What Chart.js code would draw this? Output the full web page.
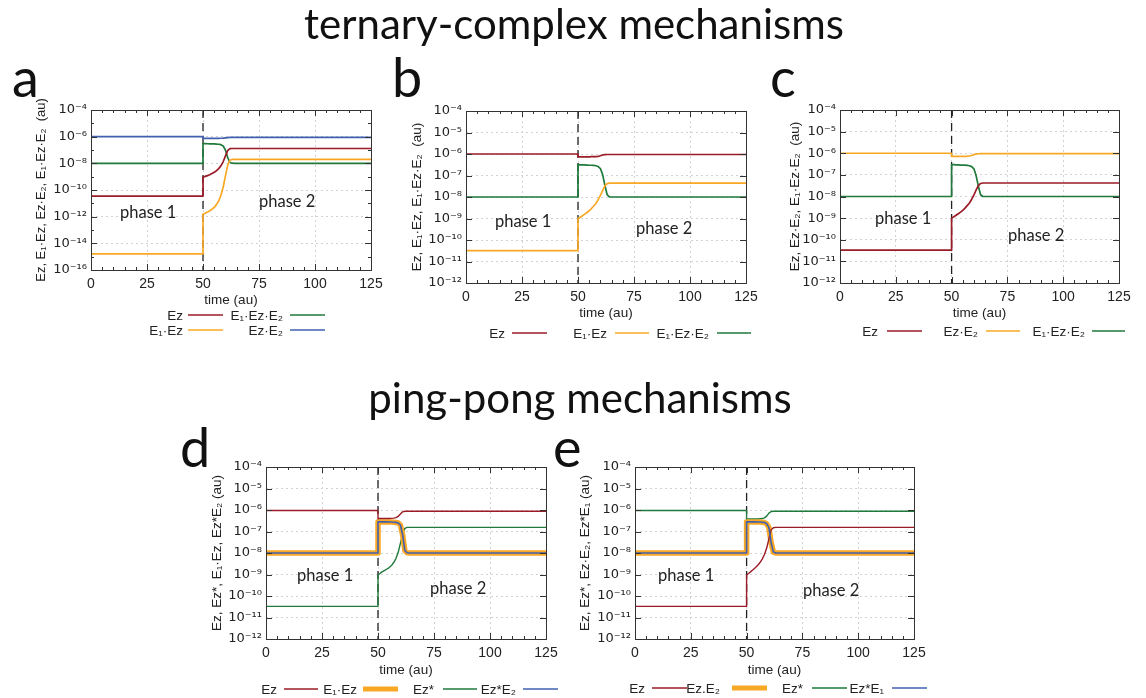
<!DOCTYPE html>
<html><head><meta charset="utf-8">
<script src="https://cdn.jsdelivr.net/npm/chart.js@4.4.1/dist/chart.umd.min.js"></script>
<style>
html,body{margin:0;padding:0;background:#fff;}
#wrap{position:relative;width:1146px;height:698px;overflow:hidden;background:#fff;}
#wrap canvas{position:absolute;}
#ov{position:absolute;left:0;top:0;pointer-events:none;}
</style></head>
<body><div id="wrap"><svg id="ov" width="1146" height="698" xmlns="http://www.w3.org/2000/svg"></svg></div>
<script>
// ---------------- DATA ----------------
const time = [0, 50, 50, 51, 52, 53, 54, 55, 56, 57, 58, 59, 60, 61, 62, 63, 64, 65, 125];
const switchTime = 50;
const xMin = 0, xMax = 125, xTickStep = 25;
const expA = [-16, -14, -12, -10, -8, -6, -4];
const expB = [-12, -11, -10, -9, -8, -7, -6, -5, -4];

// panel a (ternary-complex)
const labelsA = ['Ez', 'E₁·Ez', 'E₁·Ez·E₂', 'Ez·E₂'];
const aEz     = [3.5e-11, 3.5e-11, 9e-10, 1.05e-9, 1.2e-9, 1.4e-9, 1.7e-9, 2.1e-9, 2.8e-9, 4e-9, 6.5e-9, 1.3e-8, 3.5e-8, 9e-8, 1.25e-7, 1.3e-7, 1.3e-7, 1.3e-7, 1.3e-7];
const aE1Ez   = [1.6e-15, 1.6e-15, 1.5e-12, 1.8e-12, 2.2e-12, 2.8e-12, 3.6e-12, 5e-12, 8e-12, 1.5e-11, 4e-11, 1.6e-10, 1.1e-9, 7e-9, 1.7e-8, 1.95e-8, 2e-8, 2e-8, 2e-8];
const aE1EzE2 = [1e-8, 1e-8, 3e-7, 3e-7, 2.95e-7, 2.9e-7, 2.9e-7, 2.85e-7, 2.8e-7, 2.7e-7, 2.5e-7, 2e-7, 1e-7, 2.8e-8, 1.15e-8, 1.02e-8, 1e-8, 1e-8, 1e-8];
const aEzE2   = [1e-6, 1e-6, 7.5e-7, 7.4e-7, 7.4e-7, 7.4e-7, 7.4e-7, 7.4e-7, 7.4e-7, 7.5e-7, 7.6e-7, 7.8e-7, 8.2e-7, 8.6e-7, 8.7e-7, 8.7e-7, 8.7e-7, 8.7e-7, 8.7e-7];

// panel b
const labelsB = ['Ez', 'E₁·Ez', 'E₁·Ez·E₂'];
const bEz     = [1e-6, 1e-6, 7.5e-7, 7.4e-7, 7.4e-7, 7.4e-7, 7.4e-7, 7.4e-7, 7.5e-7, 7.5e-7, 7.6e-7, 7.8e-7, 8.3e-7, 9e-7, 9.4e-7, 9.5e-7, 9.5e-7, 9.5e-7, 9.5e-7];
const bE1Ez   = [3.2e-11, 3.2e-11, 1e-9, 1.15e-9, 1.35e-9, 1.6e-9, 1.9e-9, 2.3e-9, 2.9e-9, 3.8e-9, 5e-9, 7.5e-9, 1.2e-8, 2e-8, 3.3e-8, 4.2e-8, 4.4e-8, 4.4e-8, 4.4e-8];
const bE1EzE2 = [1e-8, 1e-8, 3.2e-7, 3.15e-7, 3.1e-7, 3.1e-7, 3.05e-7, 3e-7, 3e-7, 2.95e-7, 2.85e-7, 2.6e-7, 2.1e-7, 1.1e-7, 3.5e-8, 1.3e-8, 1.02e-8, 1e-8, 1e-8];

// panel c
const labelsC = ['Ez', 'Ez·E₂', 'E₁·Ez·E₂'];
const cEz     = [3.3e-11, 3.3e-11, 1e-9, 1.15e-9, 1.35e-9, 1.6e-9, 1.9e-9, 2.3e-9, 2.9e-9, 3.8e-9, 5e-9, 7.5e-9, 1.2e-8, 2e-8, 3.2e-8, 4e-8, 4.2e-8, 4.2e-8, 4.2e-8];
const cEzE2   = [1e-6, 1e-6, 7.2e-7, 7.1e-7, 7.1e-7, 7.1e-7, 7.1e-7, 7.1e-7, 7.2e-7, 7.3e-7, 7.5e-7, 7.9e-7, 8.6e-7, 9.2e-7, 9.5e-7, 9.6e-7, 9.6e-7, 9.6e-7, 9.6e-7];
const cE1EzE2 = [1e-8, 1e-8, 3e-7, 2.95e-7, 2.9e-7, 2.9e-7, 2.85e-7, 2.8e-7, 2.8e-7, 2.75e-7, 2.65e-7, 2.4e-7, 1.9e-7, 9e-8, 3e-8, 1.2e-8, 1e-8, 1e-8, 1e-8];

// panel d (ping-pong)
const labelsD = ['Ez', 'E₁·Ez', 'Ez*', 'Ez*E₂'];
const dEz       = [9.5e-7, 9.5e-7, 4e-7, 4e-7, 4e-7, 4e-7, 4e-7, 4e-7, 4.1e-7, 4.2e-7, 4.4e-7, 5e-7, 6.5e-7, 8.2e-7, 8.7e-7, 8.8e-7, 8.8e-7, 8.8e-7, 8.8e-7];
const dE1Ez     = [1e-8, 1e-8, 2.8e-7, 2.8e-7, 2.8e-7, 2.8e-7, 2.8e-7, 2.75e-7, 2.75e-7, 2.7e-7, 2.65e-7, 2.5e-7, 2e-7, 7e-8, 1.3e-8, 1.02e-8, 1e-8, 1e-8, 1e-8];
const dEzStar   = [3.3e-11, 3.3e-11, 9.5e-10, 1.15e-9, 1.35e-9, 1.55e-9, 1.8e-9, 2.1e-9, 2.6e-9, 3.6e-9, 5.5e-9, 1.05e-8, 2.8e-8, 8e-8, 1.4e-7, 1.55e-7, 1.55e-7, 1.55e-7, 1.55e-7];
const dEzStarE2 = [1e-8, 1e-8, 2.8e-7, 2.8e-7, 2.8e-7, 2.8e-7, 2.8e-7, 2.75e-7, 2.75e-7, 2.7e-7, 2.65e-7, 2.5e-7, 2e-7, 7e-8, 1.3e-8, 1.02e-8, 1e-8, 1e-8, 1e-8];

// panel e
const labelsE = ['Ez', 'Ez.E₂', 'Ez*', 'Ez*E₁'];
const eEz       = [3.3e-11, 3.3e-11, 9.5e-10, 1.15e-9, 1.4e-9, 1.7e-9, 2.1e-9, 2.7e-9, 3.6e-9, 5.2e-9, 8.5e-9, 1.7e-8, 4.5e-8, 1.2e-7, 1.5e-7, 1.55e-7, 1.55e-7, 1.55e-7, 1.55e-7];
const eEzE2     = [1e-8, 1e-8, 2.8e-7, 2.8e-7, 2.8e-7, 2.8e-7, 2.8e-7, 2.75e-7, 2.75e-7, 2.7e-7, 2.6e-7, 2.3e-7, 1.5e-7, 3e-8, 1.1e-8, 1e-8, 1e-8, 1e-8, 1e-8];
const eEzStar   = [9.5e-7, 9.5e-7, 3.9e-7, 3.8e-7, 3.8e-7, 3.8e-7, 3.8e-7, 3.8e-7, 3.9e-7, 4e-7, 4.3e-7, 5.2e-7, 7.2e-7, 8.5e-7, 8.8e-7, 8.8e-7, 8.8e-7, 8.8e-7, 8.8e-7];
const eEzStarE1 = [1e-8, 1e-8, 2.8e-7, 2.8e-7, 2.8e-7, 2.8e-7, 2.8e-7, 2.75e-7, 2.75e-7, 2.7e-7, 2.6e-7, 2.3e-7, 1.5e-7, 3e-8, 1.1e-8, 1e-8, 1e-8, 1e-8, 1e-8];

const titleTop = 'ternary-complex mechanisms';
const titleBottom = 'ping-pong mechanisms';
const xTitle = 'time (au)';
const phaseLabels = ['phase 1', 'phase 2'];

// ---------------- STYLE ----------------
const RED = '#9b1b26', ORANGE = '#f9a825', GREEN = '#1f7a3b', BLUE = '#4161b0';
const SUP = {'-':'⁻','0':'⁰','1':'¹','2':'²','3':'³','4':'⁴','5':'⁵','6':'⁶','7':'⁷','8':'⁸','9':'⁹'};
const toSup = e => String(e).split('').map(ch => SUP[ch]).join('');
const tickLabel = e => '10' + toSup(e);
const PADR = 12;

Chart.defaults.font.family = '"Liberation Sans", Arial, Helvetica, sans-serif';
Chart.defaults.color = '#222';

const panels = [
  { letter:'a', letterPos:[12,97], plot:[91,110,371,270], yw:57, xh:38, padT:20, yTitleSize:13, exps:expA, major:2,
    ytitle:'Ez, E₁·Ez, Ez·E₂, E₁·Ez·E₂  (au)',
    series:[
      {label:labelsA[0], values:aEz, color:RED, width:1.7},
      {label:labelsA[1], values:aE1Ez, color:ORANGE, width:1.7},
      {label:labelsA[2], values:aE1EzE2, color:GREEN, width:1.7},
      {label:labelsA[3], values:aEzE2, color:BLUE, width:1.7}],
    phase:[[120,218],[259,207]],
    legend:[{s:0,tx:183,x1:188,x2:223,y:315},{s:2,tx:283,x1:290,x2:325,y:315},
            {s:1,tx:183,x1:188,x2:223,y:330},{s:3,tx:283,x1:290,x2:325,y:330}] },
  { letter:'b', letterPos:[392,97], plot:[466,111,746,283], yw:57, xh:38, padT:12, yTitleSize:13.5, exps:expB, major:1,
    ytitle:'Ez, E₁·Ez, E₁·Ez·E₂  (au)',
    series:[
      {label:labelsB[0], values:bEz, color:RED, width:1.7},
      {label:labelsB[1], values:bE1Ez, color:ORANGE, width:1.7},
      {label:labelsB[2], values:bE1EzE2, color:GREEN, width:1.7}],
    phase:[[495,227],[636,234]],
    legend:[{s:0,tx:505,x1:512,x2:547,y:333},{s:1,tx:607,x1:615,x2:649,y:333},{s:2,tx:709,x1:717,x2:751,y:333}] },
  { letter:'c', letterPos:[770,97], plot:[840,110,1119,283], yw:53, xh:38, padT:12, yTitleSize:13.5, exps:expB, major:1,
    ytitle:'Ez, Ez·E₂, E₁·Ez·E₂  (au)',
    series:[
      {label:labelsC[0], values:cEz, color:RED, width:1.7},
      {label:labelsC[1], values:cEzE2, color:ORANGE, width:1.7},
      {label:labelsC[2], values:cE1EzE2, color:GREEN, width:1.7}],
    phase:[[875,224],[1008,241]],
    legend:[{s:0,tx:878,x1:887,x2:922,y:331},{s:1,tx:978,x1:986,x2:1020,y:331},{s:2,tx:1085,x1:1092,x2:1125,y:331}] },
  { letter:'d', letterPos:[180,467], plot:[266,467,546,639], yw:57, xh:39, padT:12, yTitleSize:13.5, exps:expB, major:1,
    ytitle:'Ez, Ez*, E₁·Ez, Ez*E₂ (au)',
    series:[
      {label:labelsD[0], values:dEz, color:RED, width:1.4},
      {label:labelsD[1], values:dE1Ez, color:ORANGE, width:5.5},
      {label:labelsD[2], values:dEzStar, color:GREEN, width:1.4},
      {label:labelsD[3], values:dEzStarE2, color:BLUE, width:1.6, order:0}],
    phase:[[297,581],[430,594]],
    legend:[{s:0,tx:277,x1:284,x2:318,y:689},{s:1,tx:357,x1:363,x2:398,y:689},{s:2,tx:434,x1:443,x2:477,y:689},{s:3,tx:516,x1:523,x2:558,y:689}] },
  { letter:'e', letterPos:[553,467], plot:[635,467,914,639], yw:58, xh:39, padT:12, yTitleSize:13.5, exps:expB, major:1,
    ytitle:'Ez, Ez*, Ez·E₂, Ez*E₁ (au)',
    series:[
      {label:labelsE[0], values:eEz, color:RED, width:1.4},
      {label:labelsE[1], values:eEzE2, color:ORANGE, width:5.5},
      {label:labelsE[2], values:eEzStar, color:GREEN, width:1.4},
      {label:labelsE[3], values:eEzStarE1, color:BLUE, width:1.6, order:0}],
    phase:[[658,581],[803,596]],
    legend:[{s:0,tx:645,x1:652,x2:687,y:688},{s:1,tx:720,x1:732,x2:767,y:688},{s:2,tx:803,x1:812,x2:847,y:688},{s:3,tx:884,x1:892,x2:927,y:688}] }
];

// frame + inner tick marks (gnuplot style), positioned through the chart scales
const frameTicks = {
  id: 'frameTicks',
  afterDatasetsDraw(chart, args, opts) {
    const {ctx, chartArea:a, scales:{x, y}} = chart;
    ctx.save();
    ctx.setLineDash([]);
    ctx.strokeStyle = '#333';
    ctx.lineWidth = 1;
    ctx.beginPath();
    for (let t = xMin; t <= xMax; t += 5) {
      const px = Math.round(x.getPixelForValue(t)) + 0.5;
      const len = (t % xTickStep === 0) ? 6 : 3;
      ctx.moveTo(px, a.bottom); ctx.lineTo(px, a.bottom - len);
      ctx.moveTo(px, a.top); ctx.lineTo(px, a.top + len);
    }
    const ex = opts.exps;
    for (let e = ex[0]; e <= ex[ex.length - 1]; e++) {
      const py = Math.round(y.getPixelForValue(Number('1e' + e))) + 0.5;
      const len = ((e - ex[0]) % opts.major === 0) ? 6 : 3;
      ctx.moveTo(a.left, py); ctx.lineTo(a.left + len, py);
      ctx.moveTo(a.right, py); ctx.lineTo(a.right - len, py);
    }
    ctx.stroke();
    ctx.strokeRect(Math.round(a.left) + 0.5, Math.round(a.top) + 0.5, Math.round(a.right - a.left), Math.round(a.bottom - a.top));
    ctx.restore();
  }
};

const wrap = document.getElementById('wrap');
const svg = document.getElementById('ov');
const NS = 'http://www.w3.org/2000/svg';
function svgText(txt, x, y, attrs) {
  const t = document.createElementNS(NS, 'text');
  t.setAttribute('x', x); t.setAttribute('y', y);
  for (const k in attrs) t.setAttribute(k, attrs[k]);
  t.textContent = txt;
  svg.appendChild(t);
}
function svgLine(x1, y1, x2, y2, color, w) {
  const l = document.createElementNS(NS, 'line');
  l.setAttribute('x1', x1); l.setAttribute('y1', y1); l.setAttribute('x2', x2); l.setAttribute('y2', y2);
  l.setAttribute('stroke', color); l.setAttribute('stroke-width', w);
  svg.appendChild(l);
}

function makePanel(p) {
  const c = document.createElement('canvas');
  const L = p.plot[0] - p.yw, T = p.plot[1] - p.padT;
  const W = p.plot[2] + PADR - L, H = p.plot[3] + p.xh - T;
  c.width = W; c.height = H;
  c.style.left = L + 'px'; c.style.top = T + 'px';
  c.style.width = W + 'px'; c.style.height = H + 'px';
  wrap.insertBefore(c, svg);
  const yMin = Number('1e' + p.exps[0]), yMax = Number('1e' + p.exps[p.exps.length - 1]);
  const labels = p.exps.map(tickLabel);
  const datasets = p.series.map(s => ({
    label: s.label,
    data: time.map((t, k) => ({x: t, y: s.values[k]})),
    borderColor: s.color, backgroundColor: s.color, borderWidth: s.width,
    pointRadius: 0, tension: 0, fill: false, order: (s.order !== undefined ? s.order : 1),
    borderJoinStyle: 'round', borderCapStyle: 'butt'
  }));
  datasets.push({
    label: 'switch', data: [{x: switchTime, y: yMax}, {x: switchTime, y: yMin}],
    borderColor: '#222', borderWidth: 1.3, borderDash: [8, 5], pointRadius: 0, order: 5
  });
  new Chart(c, {
    type: 'line',
    data: {datasets},
    options: {
      responsive: false, animation: false, devicePixelRatio: 1,
      layout: {padding: {top: p.padT, right: PADR, left: 0, bottom: 0}},
      plugins: {legend: {display: false}, tooltip: {enabled: false},
                frameTicks: {exps: p.exps, major: p.major}},
      scales: {
        x: {
          type: 'linear', min: xMin, max: xMax,
          ticks: {stepSize: xTickStep, padding: 6, autoSkip: false, maxRotation: 0, font: {size: 14}, color: '#222'},
          grid: {color: '#d2d2d2', lineWidth: 1, drawTicks: false},
          border: {display: false, dash: [2, 3]},
          title: {display: true, text: xTitle, padding: 0, font: {size: 13.5}, color: '#222'},
          afterFit(s) { s.height = p.xh; s.paddingLeft = 0; s.paddingRight = 0; }
        },
        y: {
          type: 'logarithmic', min: yMin, max: yMax,
          afterBuildTicks(s) { s.ticks = p.exps.map(e => ({value: Number('1e' + e)})); },
          ticks: {padding: 4, autoSkip: false, font: {size: 13, family: '"DejaVu Sans", "Liberation Sans", sans-serif'}, color: '#222',
                  callback: (v, i) => labels[i]},
          grid: {color: '#d2d2d2', lineWidth: 1, drawTicks: false},
          border: {display: false, dash: [2, 3]},
          title: {display: true, text: p.ytitle, padding: 0, font: {size: p.yTitleSize}, color: '#222'},
          afterFit(s) { s.width = p.yw; s.paddingTop = 0; s.paddingBottom = 0; }
        }
      }
    },
    plugins: [frameTicks]
  });

  // annotations: panel letter, phase labels, legend
  svgText(p.letter, p.letterPos[0], p.letterPos[1], {'font-family': 'Lato, "Open Sans", sans-serif', 'font-size': 54, fill: '#111'});
  p.phase.forEach((pp, i) => svgText(phaseLabels[i], pp[0], pp[1], {'font-family': 'Lato, "Open Sans", sans-serif', 'font-size': 16.5, fill: '#222'}));
  p.legend.forEach(it => {
    const s = p.series[it.s];
    svgText(s.label, it.tx, it.y + 5, {'font-family': '"Liberation Sans", Arial, sans-serif', 'font-size': 13.5, fill: '#222', 'text-anchor': 'end'});
    svgLine(it.x1, it.y, it.x2, it.y, s.color, s.width > 3 ? 5 : 1.6);
  });
}

panels.forEach(makePanel);
svgText(titleTop, 574, 39, {'font-family': 'Lato, "Open Sans", sans-serif', 'font-size': 42, fill: '#111', 'text-anchor': 'middle'});
svgText(titleBottom, 580, 413, {'font-family': 'Lato, "Open Sans", sans-serif', 'font-size': 42, fill: '#111', 'text-anchor': 'middle'});
</script>
</body></html>
